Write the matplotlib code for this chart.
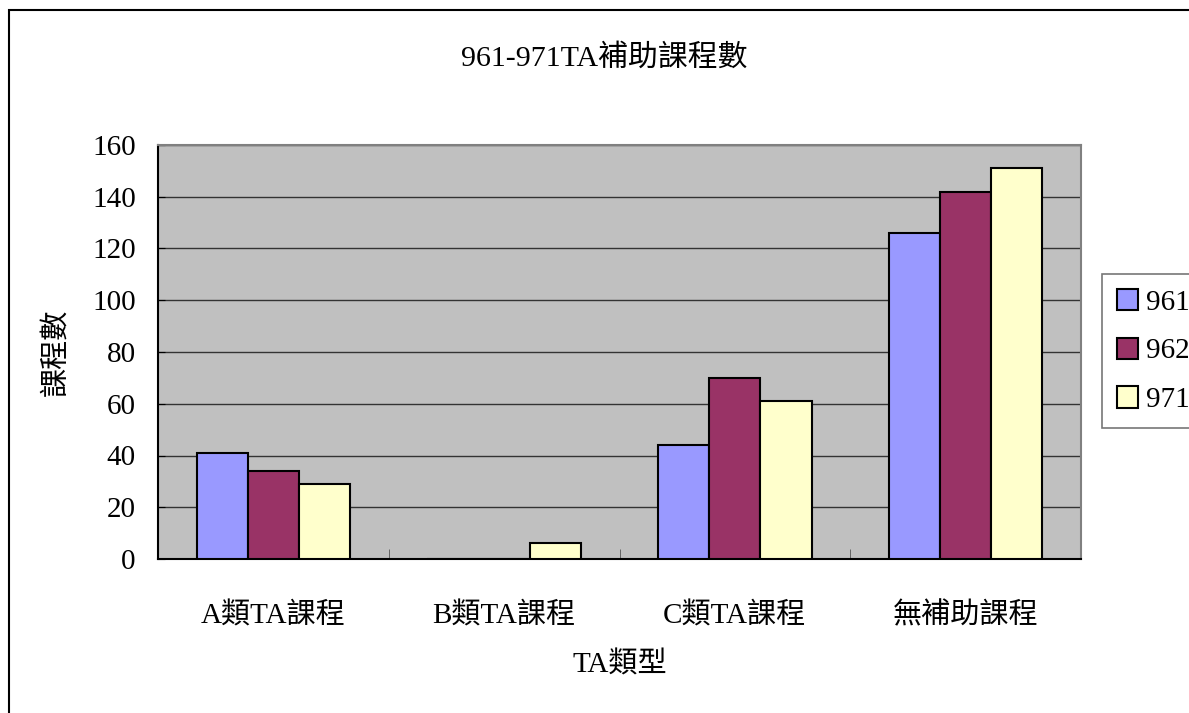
"""
961-971 TA補助課程數 bar chart
"""

import numpy as np
import matplotlib.pyplot as plt
from matplotlib.patches import Rectangle

plt.rcParams['font.family'] = ['Liberation Serif', 'Noto Sans CJK TC', 'DejaVu Sans']

categories = ["A類TA課程", "B類TA課程", "C類TA課程", "無補助課程"]
series_names = ["961", "962", "971"]
values_961 = [41, 0, 44, 126]
values_962 = [34, 0, 70, 142]
values_971 = [29, 6, 61, 151]
colors = ["#9999ff", "#993366", "#ffffcc"]

fig = plt.figure(figsize=(11.89, 7.13), dpi=100)
ax = fig.add_axes([158 / 1189, 1 - 559 / 713, (1081 - 158) / 1189, (559 - 145) / 713])

# outer chart border
fig.patches.append(Rectangle((9 / 1189, -0.1), 1.2, 1 - 10 / 713 + 0.1,
                             transform=fig.transFigure, fill=False,
                             edgecolor="black", linewidth=1.5))

x = np.arange(len(categories))
w = 0.222
for i, (vals, c, name) in enumerate(zip([values_961, values_962, values_971], colors, series_names)):
    ax.bar(x + (i - 1) * w, vals, w, color=c, edgecolor="black", linewidth=1.5,
           label=name, zorder=3)

ax.set_facecolor("#c0c0c0")
ax.set_xlim(-0.5, 3.5)
ax.set_ylim(0, 160)
ax.set_yticks(range(0, 161, 20))
ax.yaxis.grid(True, color="#333333", linewidth=1, zorder=1)
ax.set_axisbelow(True)

ax.set_xticks(x)
ax.set_xticklabels(categories, fontsize=21)
ax.tick_params(axis="x", length=0, pad=31)
ax.set_xticks([0.5, 1.5, 2.5], minor=True)
ax.tick_params(axis="x", which="minor", direction="in", length=7, color="#555555")
ax.tick_params(axis="y", labelsize=21, direction="in", length=5, pad=16)

for s in ["top", "right"]:
    ax.spines[s].set_color("#808080")
    ax.spines[s].set_linewidth(1.5)
for s in ["left", "bottom"]:
    ax.spines[s].set_color("black")
    ax.spines[s].set_linewidth(1.5)

ax.set_xlabel("TA類型", fontsize=21, labelpad=16)
ax.set_ylabel("課程數", fontsize=21, labelpad=16)
fig.text(604 / 1189, 1 - 58 / 713, "961-971TA補助課程數", fontsize=21.5,
         ha="center", va="center")

leg = ax.legend(loc="center left", bbox_to_anchor=(1102 / 1189, 1 - 351 / 713),
                bbox_transform=fig.transFigure, fontsize=21, frameon=True,
                fancybox=False, handlelength=0.75, handleheight=0.75,
                handletextpad=0.25, labelspacing=0.75, borderpad=0.5,
                borderaxespad=0)
leg.get_frame().set_edgecolor("#555555")
leg.get_frame().set_linewidth(1.2)

fig.savefig("out.png", dpi=100)
